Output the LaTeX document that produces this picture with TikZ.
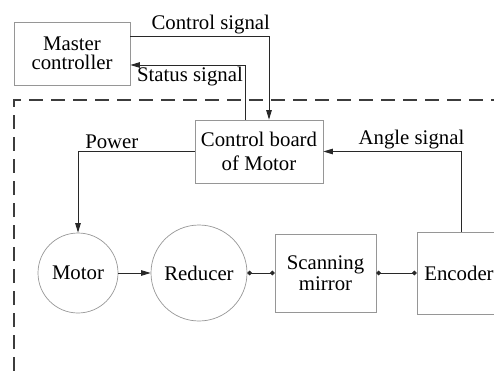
\documentclass[tikz,border=0pt]{standalone}
\usepackage{fontspec}
\setmainfont{Liberation Serif}
\usetikzlibrary{arrows.meta,positioning,calc}
\definecolor{boxgray}{RGB}{150,150,150}
\definecolor{wire}{RGB}{40,40,40}
\definecolor{dashgray}{RGB}{60,60,60}
\tikzset{
  unit/.style={draw=boxgray,line width=0.7pt,align=center,inner sep=1pt,font=\fontsize{20.8}{21}\selectfont},
  wheel/.style={unit,circle},
  arr/.style={-{Triangle[length=9.5pt,width=5.5pt]},draw=wire,line width=0.9pt},
  link/.style={{Circle[length=4.5pt]}-{Circle[length=4.5pt]},draw=wire,line width=0.9pt},
  frame/.style={draw=dashgray,line width=1.8pt,dash pattern=on 14pt off 8pt},
  lbl/.style={font=\fontsize{20.8}{21}\selectfont,inner sep=2pt}
}

\begin{document}
\begin{tikzpicture}[x=1pt,y=-1pt]
  \clip (0,0) rectangle (494,371);
  \node[unit,minimum width=116pt,minimum height=63pt] (master) at (72,53.5) {Master\\[-2pt]controller};
  \node[unit,minimum width=128pt,minimum height=63pt] (board) at (259,151.5) {Control board\\[3pt]of Motor};
  \node[wheel,minimum size=80pt] (motor) at (78,273) {Motor};
  \node[wheel,minimum size=96pt] (reducer) at (199,273) {Reducer};
  \node[unit,minimum width=101pt,minimum height=78pt] (mirror) at (325.5,273) {Scanning\\mirror};
  \node[unit,minimum width=84pt,minimum height=82pt] (encoder) at (459,273) {Encoder};

  \draw[frame] (14,371) -- (14,100) -- (500,100);

  \draw[arr] ([yshift=17.5pt]master.east) -| node[lbl,above,pos=0.29]{Control signal} ([xshift=10pt]board.north);
  \draw[arr] ([xshift=-14pt]board.north) |- node[lbl,below,pos=0.74]{Status signal} ([yshift=-11.5pt]master.east);
  \draw[arr] (board.west) -| node[lbl,above,pos=0.355]{Power} (motor.north);
  \draw[arr] ([xshift=2pt]encoder.north) |- node[lbl,above,pos=0.68]{Angle signal} (board.east);
  \draw[arr] (motor) -- (reducer);
  \draw[link] (reducer.east) -- (mirror.west);
  \draw[link] (mirror.east) -- (encoder.west);
\end{tikzpicture}
\end{document}
